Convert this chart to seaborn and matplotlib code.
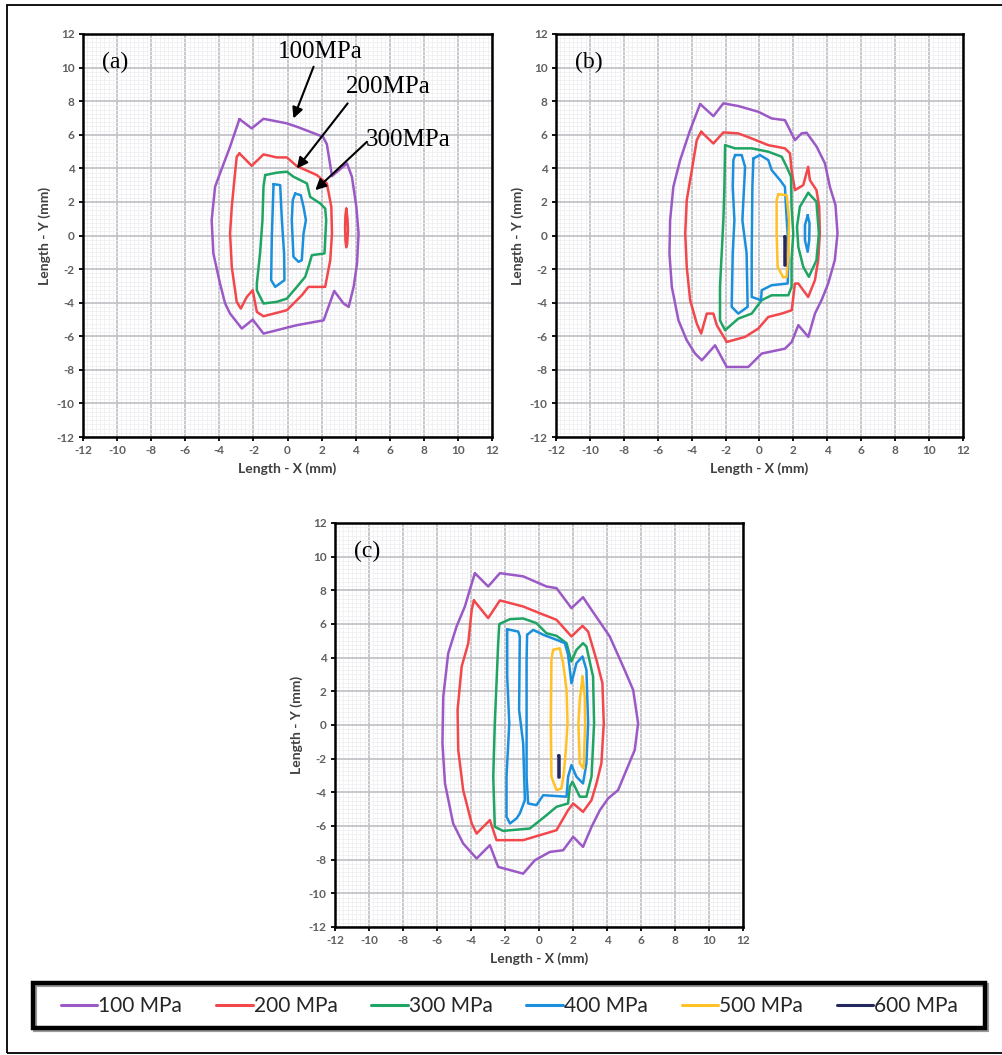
import numpy as np
import pandas as pd
import matplotlib
matplotlib.use("Agg")
import matplotlib.pyplot as plt
import seaborn as sns
from matplotlib.ticker import MultipleLocator
from matplotlib.lines import Line2D
from matplotlib.patches import Rectangle

# ---------------- data (mm) ----------------
levels = ["100 MPa", "200 MPa", "300 MPa", "400 MPa", "500 MPa", "600 MPa"]
level_colors = ["#9B59C6", "#F2474B", "#1FA463", "#1C8FDC", "#FFC125", "#24285E"]
tick_values = list(range(-12, 13, 2))

# panel (a)
A100 = [(-2.82, 6.93), (-2.10, 6.38), (-1.41, 6.95), (-0.04, 6.68), (0.65, 6.44), (2.08, 5.88),
        (2.31, 5.44), (2.61, 3.54), (3.49, 4.29), (3.78, 3.50), (4.04, 1.71), (4.17, 0.12),
        (4.08, -1.67), (3.88, -3.06), (3.59, -4.25), (3.29, -4.05), (2.74, -3.30), (2.12, -5.05),
        (0.55, -5.34), (-1.41, -5.84), (-2.04, -5.01), (-2.68, -5.54), (-3.37, -4.65),
        (-3.66, -4.05), (-3.96, -2.86), (-4.35, -1.07), (-4.45, 0.91), (-4.25, 2.90),
        (-3.96, 3.70), (-3.37, 5.29)]
A200 = [(-2.82, 4.89), (-2.10, 4.15), (-1.41, 4.83), (-0.63, 4.65), (-0.04, 4.65), (0.55, 4.13),
        (1.72, 3.60), (2.31, 3.10), (2.57, 1.71), (2.61, 0.12), (2.51, -1.47), (2.21, -3.06),
        (1.23, -3.06), (0.84, -3.56), (-0.04, -4.45), (-1.41, -4.81), (-1.80, -4.55),
        (-2.04, -3.26), (-2.39, -3.66), (-2.74, -4.35), (-2.98, -3.95), (-3.27, -1.87),
        (-3.37, 0.12), (-3.27, 1.71), (-3.08, 3.70), (-2.98, 4.69)]
A200b = [(3.45, 1.60), (3.52, 1.00), (3.55, 0.30), (3.50, -0.50), (3.45, -0.70), (3.40, -0.30),
         (3.38, 0.50), (3.40, 1.20)]
A300 = [(-1.31, 3.60), (-0.63, 3.74), (-0.04, 3.80), (0.35, 3.50), (1.14, 3.10), (1.33, 2.30),
        (1.92, 1.91), (2.21, 1.61), (2.27, 0.91), (2.17, -1.07), (1.43, -1.17), (1.23, -1.87),
        (1.04, -2.46), (0.55, -3.06), (-0.04, -3.76), (-0.63, -3.95), (-1.41, -4.05),
        (-1.80, -3.26), (-1.80, -2.86), (-1.61, -1.07), (-1.47, 0.91), (-1.41, 2.90)]
A400 = [(-0.82, 3.06), (-0.43, 3.00), (-0.33, 0.91), (-0.20, -1.07), (-0.18, -2.66),
        (-0.72, -3.06), (-0.96, -2.66), (-0.92, -0.08)]
A400b = [(0.45, 2.50), (0.78, 2.40), (0.94, 1.71), (1.08, 0.91), (0.94, 0.12), (0.84, -1.47),
         (0.65, -1.57), (0.35, -1.27), (0.25, 0.91), (0.31, 2.10)]

# panel (b)
B100 = [(-3.50, 7.83), (-2.72, 7.11), (-2.13, 7.87), (-1.25, 7.71), (-0.07, 7.37), (0.72, 6.97),
        (1.50, 6.87), (2.09, 5.68), (2.48, 6.08), (2.78, 6.12), (3.37, 5.29), (3.86, 4.29),
        (4.15, 2.90), (4.48, 1.81), (4.60, 0.12), (4.44, -1.47), (4.05, -2.86), (3.66, -3.85),
        (3.27, -4.65), (2.88, -6.04), (2.29, -5.34), (1.90, -6.34), (1.50, -6.74), (0.13, -7.03),
        (-0.66, -7.83), (-1.93, -7.83), (-2.62, -6.54), (-3.40, -7.43), (-3.80, -7.03),
        (-4.29, -6.24), (-4.78, -5.05), (-5.17, -3.06), (-5.31, -1.07), (-5.27, 0.91),
        (-5.08, 2.90), (-4.68, 4.49), (-4.09, 6.28)]
B200 = [(-3.44, 6.18), (-2.72, 5.48), (-2.13, 6.14), (-1.25, 6.08), (-0.46, 5.78), (0.52, 5.38),
        (1.50, 5.19), (1.80, 4.89), (1.89, 3.89), (2.09, 2.70), (2.58, 3.00), (2.87, 4.09),
        (2.97, 3.30), (3.36, 2.70), (3.52, 1.71), (3.56, 0.12), (3.46, -1.47), (3.27, -2.66),
        (2.87, -3.66), (2.29, -2.86), (2.09, -2.86), (1.90, -4.45), (1.31, -4.65), (0.52, -4.85),
        (-0.07, -5.54), (-0.85, -6.04), (-1.93, -6.34), (-2.52, -5.34), (-2.72, -4.65),
        (-3.11, -4.65), (-3.44, -5.84), (-3.70, -5.24), (-4.09, -3.85), (-4.29, -1.87),
        (-4.38, 0.12), (-4.29, 2.11), (-3.99, 3.89), (-3.70, 5.68)]
B300 = [(-2.03, 5.38), (-1.44, 5.19), (-0.46, 5.19), (0.52, 4.99), (1.31, 4.69), (1.60, 4.09),
        (1.86, 3.50), (1.89, 1.71), (1.99, 0.12), (1.89, -1.47), (1.89, -3.06), (1.70, -3.56),
        (0.72, -3.56), (0.13, -3.85), (-0.46, -4.65), (-1.25, -4.95), (-2.03, -5.64),
        (-2.33, -5.05), (-2.33, -3.06), (-2.23, -1.07), (-2.13, 0.91), (-2.07, 2.90)]
B300b = [(2.87, 2.54), (3.36, 2.01), (3.50, 0.12), (3.36, -1.47), (2.91, -2.46), (2.58, -1.87),
         (2.29, -0.68), (2.21, 0.52), (2.38, 1.71)]
B400 = [(-1.44, 4.79), (-1.05, 4.79), (-0.85, 4.09), (-1.01, 0.91), (-0.76, -1.07), (-0.70, -4.25),
        (-1.25, -4.65), (-1.64, -4.25), (-1.58, -1.07), (-1.48, 0.91), (-1.58, 2.90), (-1.54, 4.49)]
B400b = [(-0.36, 4.59), (0.03, 4.79), (0.52, 4.49), (0.72, 3.89), (1.21, 3.30), (1.50, 2.90),
         (1.56, 1.71), (1.66, 0.12), (1.70, -1.47), (1.66, -2.86), (0.72, -2.96), (0.13, -3.26),
         (0.09, -3.85), (-0.46, -3.66), (-0.46, -1.07), (-0.42, 2.90)]
B400c = [(2.84, 1.21), (2.95, 0.72), (2.93, -0.28), (2.84, -0.97), (2.68, -0.28), (2.68, 0.62)]
B500 = [(1.11, 2.46), (1.60, 2.40), (1.74, 0.91), (1.70, -1.07), (1.60, -2.46), (1.40, -2.50),
        (1.07, -1.87), (1.01, 0.12), (1.01, 2.11)]
B600 = [(1.43, 0.00), (1.51, 0.00), (1.51, -1.75), (1.43, -1.75)]

# panel (c)
C100 = [(-3.77, 9.02), (-2.99, 8.23), (-2.30, 9.02), (-0.93, 8.83), (0.44, 8.23), (1.03, 8.13),
        (1.91, 6.94), (2.59, 7.59), (3.09, 6.84), (4.16, 5.26), (4.95, 3.47), (5.54, 2.08),
        (5.83, 0.10), (5.63, -1.49), (5.14, -2.68), (4.65, -3.87), (4.07, -4.36), (3.58, -5.06),
        (3.09, -6.05), (2.59, -7.24), (2.01, -6.64), (1.42, -7.44), (0.64, -7.54), (-0.24, -8.03),
        (-0.93, -8.83), (-2.40, -8.43), (-2.89, -7.14), (-3.67, -7.93), (-4.46, -7.04),
        (-5.05, -5.85), (-5.53, -3.47), (-5.68, -1.09), (-5.63, 1.69), (-5.34, 4.26),
        (-4.85, 5.85), (-4.36, 7.04), (-4.07, 8.03)]
C200 = [(-3.83, 7.40), (-2.99, 6.35), (-2.30, 7.40), (-0.93, 7.04), (0.05, 6.64), (1.03, 6.25),
        (1.91, 5.26), (2.56, 5.89), (2.89, 5.55), (3.38, 3.87), (3.73, 2.48), (3.81, 0.10),
        (3.67, -2.28), (3.38, -3.47), (3.09, -4.46), (2.59, -5.16), (2.01, -4.66), (1.71, -5.06),
        (1.03, -6.25), (-0.93, -6.84), (-2.50, -6.84), (-2.89, -5.65), (-3.67, -6.45),
        (-3.96, -5.85), (-4.46, -3.87), (-4.75, -1.49), (-4.79, 0.89), (-4.55, 3.47),
        (-4.16, 4.86), (-3.96, 6.84)]
C300 = [(-2.30, 6.01), (-1.71, 6.29), (-0.93, 6.33), (-0.15, 6.05), (0.44, 5.45), (1.03, 5.30),
        (1.62, 4.86), (1.91, 3.77), (2.20, 4.46), (2.59, 4.86), (2.79, 4.66), (3.18, 2.88),
        (3.24, 0.10), (3.09, -3.07), (2.79, -4.26), (2.40, -4.26), (1.97, -3.37), (1.81, -3.67),
        (1.71, -4.66), (1.03, -4.86), (0.44, -5.36), (-0.54, -6.15), (-2.11, -6.29),
        (-2.60, -6.05), (-2.69, -3.07), (-2.60, 0.10), (-2.40, 4.86), (-2.34, 5.95)]
C400 = [(-1.87, 5.69), (-1.22, 5.55), (-1.13, 5.26), (-1.17, 0.89), (-0.93, -1.09), (-0.83, -4.46),
        (-1.13, -5.26), (-1.32, -5.55), (-1.71, -5.85), (-1.91, -5.45), (-1.91, -3.07),
        (-1.75, 0.10), (-1.87, 2.88)]
C400b = [(-0.70, 5.36), (-0.34, 5.65), (0.25, 5.36), (1.03, 5.06), (1.52, 4.86), (1.71, 4.17),
         (1.91, 2.48), (2.20, 3.67), (2.56, 4.07), (2.79, 3.27), (2.89, 0.10), (2.79, -2.28),
         (2.59, -3.47), (2.20, -3.07), (1.91, -2.38), (1.71, -3.07), (1.62, -4.26), (1.03, -4.22),
         (0.25, -4.17), (-0.15, -4.76), (-0.64, -4.66), (-0.73, -3.07), (-0.73, 0.10), (-0.73, 3.87)]
C500 = [(0.83, 4.46), (1.22, 4.56), (1.42, 3.67), (1.62, 2.08), (1.68, 0.10), (1.58, -1.49),
        (1.46, -2.88), (1.32, -3.77), (1.03, -3.87), (0.73, -3.07), (0.69, 0.10), (0.73, 3.87)]
C500b = [(2.56, 2.88), (2.69, 1.69), (2.71, 0.10), (2.63, -2.58), (2.40, -2.28), (2.32, 0.10),
         (2.40, 1.49)]
C600 = [(1.09, -1.79), (1.17, -1.79), (1.17, -3.07), (1.09, -3.07)]

panel_a = [("100 MPa", A100), ("200 MPa", A200), ("200 MPa", A200b), ("300 MPa", A300),
           ("400 MPa", A400), ("400 MPa", A400b)]
panel_b = [("100 MPa", B100), ("200 MPa", B200), ("300 MPa", B300), ("300 MPa", B300b),
           ("400 MPa", B400), ("400 MPa", B400b), ("400 MPa", B400c), ("500 MPa", B500),
           ("600 MPa", B600)]
panel_c = [("100 MPa", C100), ("200 MPa", C200), ("300 MPa", C300), ("400 MPa", C400),
           ("400 MPa", C400b), ("500 MPa", C500), ("500 MPa", C500b), ("600 MPa", C600)]

annot_text = ["100MPa", "200MPa", "300MPa"]
annot_text_xy = [(-0.55, 10.95), (3.45, 8.86), (4.62, 5.68)]
annot_tail = [(1.53, 10.05), (3.53, 7.87), (4.66, 5.58)]
annot_head = [(0.35, 6.97), (0.55, 3.99), (1.63, 2.70)]


def to_frame(loops):
    rows = []
    for i, (lev, pts) in enumerate(loops):
        closed = list(pts) + [pts[0]]
        for j, (x, y) in enumerate(closed):
            rows.append({"level": lev, "loop": i, "order": j, "x": x, "y": y})
    return pd.DataFrame(rows)


# ---------------- figure ----------------
sns.set_theme(style="white")
plt.rcParams["font.family"] = ["Lato", "DejaVu Sans"]

W, H = 1003, 1055
fig = plt.figure(figsize=(W / 100, H / 100), dpi=100)
fig.patch.set_facecolor("white")


def rect(l, t, r, b):
    return [l / W, 1 - b / H, (r - l) / W, (b - t) / H]


palette = dict(zip(levels, level_colors))
tick_labels = [str(v) for v in tick_values]


def style_axis(ax):
    ax.set_xlim(-12, 12)
    ax.set_ylim(-12, 12)
    ax.set_xticks(tick_values, labels=tick_labels, fontweight="bold")
    ax.set_yticks(tick_values, labels=tick_labels, fontweight="bold")
    ax.xaxis.set_minor_locator(MultipleLocator(0.25))
    ax.yaxis.set_minor_locator(MultipleLocator(0.25))
    ax.grid(which="major", color="#c4c4c8", lw=1.3)
    ax.grid(which="minor", color="#f0f0f4", lw=0.6)
    ax.set_axisbelow(True)
    ax.tick_params(which="major", direction="out", length=3, width=1.3, color="black",
                   labelsize=8.5, labelcolor="#606060", pad=3, bottom=True, left=True)
    ax.tick_params(which="minor", length=0)
    for s in ax.spines.values():
        s.set_visible(True)
        s.set_color("black")
        s.set_linewidth(1.8)
    ax.set_xlabel("Length - X (mm)", fontsize=10, fontweight="bold", color="#404040", labelpad=4)
    ax.set_ylabel("Length - Y (mm)", fontsize=10, fontweight="bold", color="#404040", labelpad=4)


def draw_panel(ax, loops, tag):
    df = to_frame(loops)
    sns.lineplot(data=df, x="x", y="y", hue="level", units="loop", estimator=None,
                 sort=False, palette=palette, hue_order=levels, lw=1.8, legend=False, ax=ax)
    style_axis(ax)
    ax.text(-10.9, 10.3, tag, fontsize=17, family=["Liberation Serif", "DejaVu Serif"],
            color="black", ha="left", va="center")


ax_a = fig.add_axes(rect(83, 34, 492, 437))
ax_b = fig.add_axes(rect(556, 34, 963, 437))
ax_c = fig.add_axes(rect(335, 523, 743, 927))

draw_panel(ax_a, panel_a, "(a)")
draw_panel(ax_b, panel_b, "(b)")
draw_panel(ax_c, panel_c, "(c)")

for txt, txy, tail, head in zip(annot_text, annot_text_xy, annot_tail, annot_head):
    ax_a.text(txy[0], txy[1], txt, fontsize=18, family=["Liberation Serif", "DejaVu Serif"],
              ha="left", va="center", color="black")
    ax_a.annotate("", xy=head, xytext=tail,
                  arrowprops=dict(arrowstyle="-|>", color="black", lw=1.5, mutation_scale=16,
                                  shrinkA=0, shrinkB=0))

# legend (entries) and its box
handles = [Line2D([0], [0], color=c, lw=2.2) for c in level_colors]
leg = fig.legend(handles, levels, loc="center left", ncol=6,
                 bbox_to_anchor=(61 / W, 1 - 1006 / H),
                 fontsize=15, handlelength=1.75, handletextpad=0.05, columnspacing=1.62,
                 borderaxespad=0.0, borderpad=0.0, frameon=False)
for t in leg.get_texts():
    t.set_color("#262626")
fig.patches.append(Rectangle((35 / W, 1 - 1030 / H), 952 / W, 45 / H, transform=fig.transFigure,
                             fill=False, edgecolor="#9a9a9a", lw=3.0, zorder=1))
fig.patches.append(Rectangle((33 / W, 1 - 1028 / H), 952 / W, 45 / H, transform=fig.transFigure,
                             fill=False, edgecolor="black", lw=3.2, zorder=2))

# outer frame
fig.patches.append(Rectangle((7.5 / W, 1 - 1053 / H), 1.2, (1053 - 5) / H, transform=fig.transFigure,
                             fill=False, edgecolor="black", lw=1.3))

fig.savefig("out.png", dpi=100)
